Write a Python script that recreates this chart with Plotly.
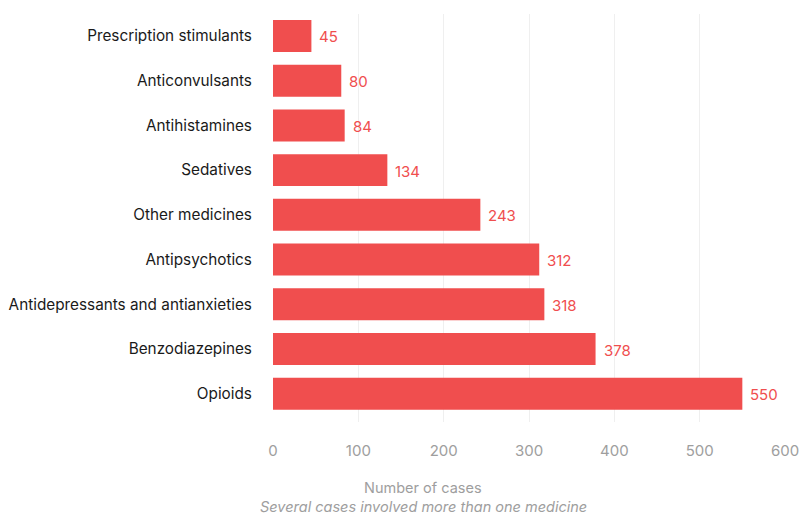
import plotly.graph_objects as go

categories = ["Prescription stimulants", "Anticonvulsants", "Antihistamines", "Sedatives",
              "Other medicines", "Antipsychotics", "Antidepressants and antianxieties",
              "Benzodiazepines", "Opioids"]
values = [45, 80, 84, 134, 243, 312, 318, 378, 550]
tick_vals = [0, 100, 200, 300, 400, 500, 600]

RED = "#F04E4E"
FONT = "Inter"
GREY = "#9e9e9e"

fig = go.Figure(go.Bar(
    y=categories, x=values, orientation="h",
    marker=dict(color=RED, line=dict(width=0)),
    width=0.715,
    hoverinfo="x+y",
))

annotations = [
    dict(x=v, y=c, xref="x", yref="y", text=str(v), showarrow=False,
         xanchor="left", yanchor="middle", xshift=6, yshift=-1,
         font=dict(color=RED, size=15, family=FONT))
    for c, v in zip(categories, values)
]
annotations += [
    dict(text="Number of cases", xref="paper", yref="paper", x=0.293, y=0,
         xanchor="center", yanchor="middle", yshift=-65, showarrow=False,
         font=dict(color=GREY, size=14.5, family=FONT)),
    dict(text="<i>Several cases involved more than one medicine</i>", xref="paper",
         yref="paper", x=0.293, y=0, xanchor="center", yanchor="middle", yshift=-84,
         showarrow=False, font=dict(color=GREY, size=14.5, family=FONT)),
]

fig.update_layout(
    width=803, height=515,
    margin=dict(l=273, r=18, t=14, b=93),
    plot_bgcolor="white", paper_bgcolor="white",
    showlegend=False,
    font=dict(family=FONT),
    xaxis=dict(range=[0, 600], tickvals=tick_vals, showgrid=True, gridcolor="#efefef",
               gridwidth=1, zeroline=False, showline=False, automargin=False,
               tickfont=dict(color=GREY, size=15, family=FONT),
               ticks="outside", ticklen=15, tickcolor="rgba(0,0,0,0)"),
    yaxis=dict(tickfont=dict(color="#1a1a1a", size=15.3, family=FONT),
               ticks="outside", ticklen=17, tickcolor="rgba(0,0,0,0)", showgrid=False,
               range=[8.63, -0.49], automargin=False),
    annotations=annotations,
)

fig.write_html("out.html", config={"displayModeBar": False},
               post_script="document.body.style.margin='0';")
